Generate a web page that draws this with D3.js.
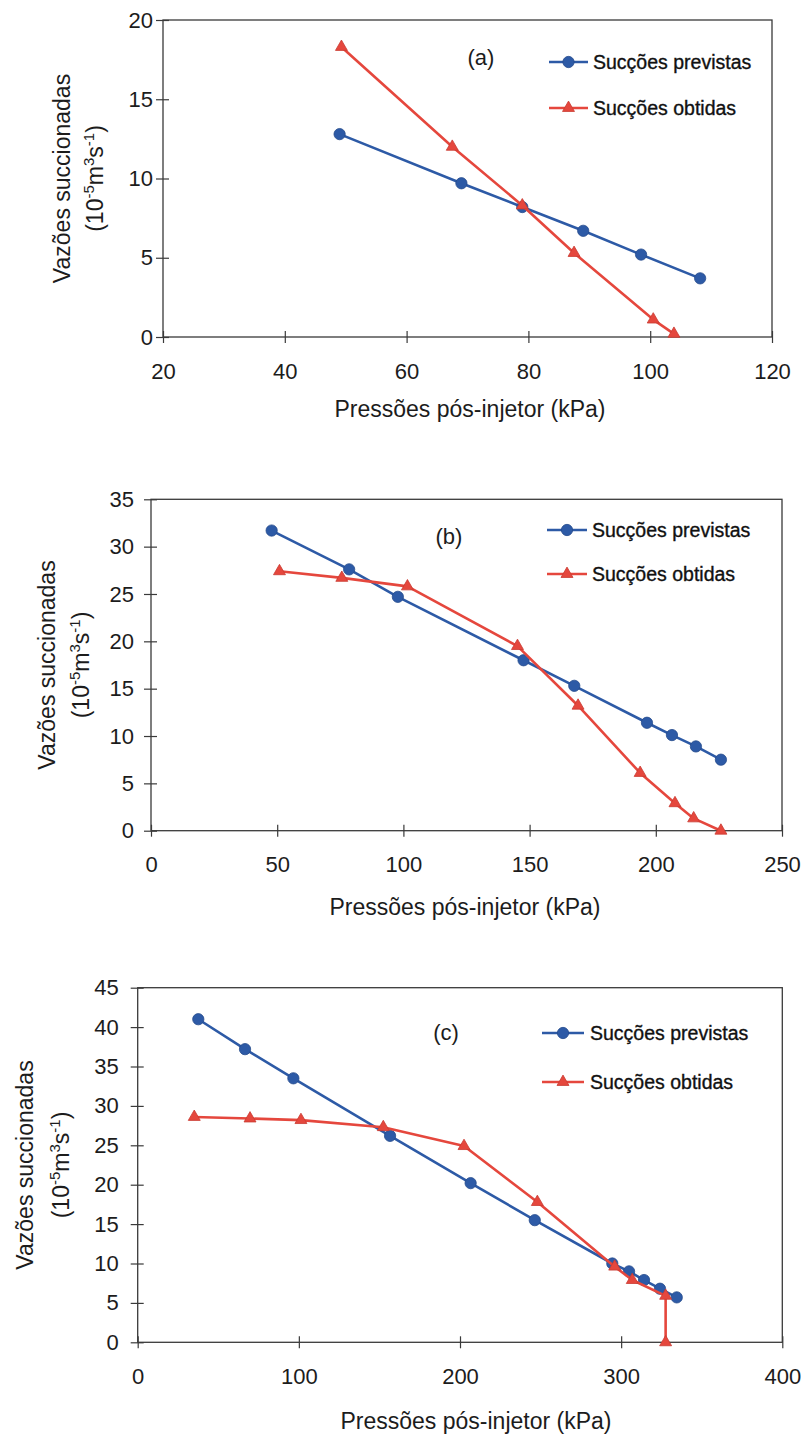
<!DOCTYPE html>
<html>
<head>
<meta charset="utf-8">
<script src="https://cdn.jsdelivr.net/npm/d3@7"></script>
<style>
    body { margin: 0; background: #fff; }
    svg { display: block; }
</style>
</head>
<body>
<div id="chart"></div>
<script>
'use strict';

// Panel (a)
const pressA_prev = [49, 69, 79, 89, 98.5, 108.2];
const vazaoA_prev = [12.8, 9.7, 8.2, 6.7, 5.2, 3.7];
const pressA_obt = [49.3, 67.5, 79, 87.5, 100.5, 103.9];
const vazaoA_obt = [18.3, 12.0, 8.3, 5.3, 1.1, 0.2];
const ticksA_x = [20, 40, 60, 80, 100, 120];
const ticksA_y = [0, 5, 10, 15, 20];

// Panel (b)
const pressB_prev = [47.8, 78.5, 97.8, 147.6, 167.7, 196.5, 206.4, 215.9, 225.8];
const vazaoB_prev = [31.7, 27.6, 24.7, 18.0, 15.3, 11.4, 10.1, 8.9, 7.5];
const pressB_obt = [50.9, 75.6, 101.6, 145.2, 169.2, 193.8, 207.6, 215, 225.8];
const vazaoB_obt = [27.4, 26.7, 25.8, 19.5, 13.2, 6.1, 2.9, 1.3, 0];
const ticksB_x = [0, 50, 100, 150, 200, 250];
const ticksB_y = [0, 5, 10, 15, 20, 25, 30, 35];

// Panel (c)
const pressC_prev = [37.6, 66.6, 96.6, 156.6, 206.6, 246.4, 294.5, 304.9, 314.2, 324.1, 334.5];
const vazaoC_prev = [41.0, 37.2, 33.5, 26.2, 20.2, 15.5, 10.0, 9.0, 7.9, 6.8, 5.7];
const pressC_obt = [35.1, 69.7, 101.3, 152.4, 202.5, 248, 296, 306.9, 327.6, 327.6];
const vazaoC_obt = [28.6, 28.4, 28.2, 27.3, 24.9, 17.8, 9.6, 7.9, 5.9, 0];
const ticksC_x = [0, 100, 200, 300, 400];
const ticksC_y = [0, 5, 10, 15, 20, 25, 30, 35, 40, 45];

// Texts
const seriesNames = ['Sucções previstas', 'Sucções obtidas'];
const panelLabels = ['(a)', '(b)', '(c)'];
const xTitle = 'Pressões pós-injetor (kPa)';
const yTitle = 'Vazões succionadas';

// Styles
const FONT = '"Liberation Sans", Arial, Helvetica, sans-serif';
const INK = '#1c1c1c';
const AXIS = '#3a3a3a';
const BLUE = '#2d5aa6';
const RED = '#e5473d';

const svg = d3.select('#chart')
    .append('svg')
    .attr('width', 808)
    .attr('height', 1436)
    .style('font-family', FONT);

class SuctionChart {

    constructor(_series, _cfg) {
        this.series = _series;
        this.cfg = _cfg;

        this.initVis();
    }

    initVis() {
        // Get this vis
        const vis = this;
        const c = vis.cfg;

        vis.g = svg.append('g')
            .attr('class', 'panel');

        // Scales
        vis.xScale = d3.scaleLinear()
            .domain([c.xTicks[0], c.xTicks[c.xTicks.length - 1]])
            .range([c.left, c.right]);
        vis.yScale = d3.scaleLinear()
            .domain([c.yTicks[0], c.yTicks[c.yTicks.length - 1]])
            .range([c.bottom, c.top]);

        // Frame
        vis.g.append('rect')
            .attr('x', c.left)
            .attr('y', c.top)
            .attr('width', c.right - c.left)
            .attr('height', c.bottom - c.top)
            .attr('fill', 'none')
            .attr('stroke', AXIS)
            .attr('stroke-width', 1.3);

        // X axis
        vis.xAxisG = vis.g.append('g')
            .attr('transform', `translate(0,${c.bottom})`)
            .call(d3.axisBottom(vis.xScale)
                .tickValues(c.xTicks)
                .tickSize(6)
                .tickPadding(20)
                .tickFormat(d3.format('d')))
            .attr('font-family', FONT)
            .attr('font-size', 22);
        vis.xAxisG.select('.domain').remove();
        vis.xAxisG.selectAll('.tick line')
            .attr('y1', -6)
            .attr('y2', 6)
            .attr('stroke', AXIS)
            .attr('stroke-width', 1.2);
        vis.xAxisG.selectAll('.tick text')
            .attr('fill', INK);

        // Y axis
        vis.yAxisG = vis.g.append('g')
            .attr('transform', `translate(${c.left},0)`)
            .call(d3.axisLeft(vis.yScale)
                .tickValues(c.yTicks)
                .tickSize(7)
                .tickPadding(c.yPad)
                .tickFormat(d3.format('d')))
            .attr('font-family', FONT)
            .attr('font-size', 22);
        vis.yAxisG.select('.domain').remove();
        vis.yAxisG.selectAll('.tick line')
            .attr('x1', 6)
            .attr('stroke', AXIS)
            .attr('stroke-width', 1.2);
        vis.yAxisG.selectAll('.tick text')
            .attr('fill', INK);

        // X title
        vis.g.append('text')
            .attr('x', c.xTitleX)
            .attr('y', c.bottom + c.xTitleDy)
            .attr('text-anchor', 'middle')
            .attr('font-size', 23)
            .attr('fill', INK)
            .text(xTitle);

        // Y title, two lines
        const cy = (c.top + c.bottom) / 2;
        vis.g.append('text')
            .attr('transform', `translate(${c.yLine1},${cy}) rotate(-90)`)
            .attr('text-anchor', 'middle')
            .attr('font-size', 23)
            .attr('fill', INK)
            .text(yTitle);

        const unit = vis.g.append('text')
            .attr('transform', `translate(${c.yLine2},${cy}) rotate(-90)`)
            .attr('text-anchor', 'middle')
            .attr('font-size', 23)
            .attr('fill', INK);
        unit.append('tspan').text('(10');
        unit.append('tspan').attr('font-size', 15).attr('dy', -9).text('-5');
        unit.append('tspan').attr('dy', 9).text('m');
        unit.append('tspan').attr('font-size', 15).attr('dy', -9).text('3');
        unit.append('tspan').attr('dy', 9).text('s');
        unit.append('tspan').attr('font-size', 15).attr('dy', -9).text('-1');
        unit.append('tspan').attr('dy', 9).text(')');

        // Panel label
        vis.g.append('text')
            .attr('x', c.label[0])
            .attr('y', c.label[1])
            .attr('dy', '0.36em')
            .attr('text-anchor', 'middle')
            .attr('font-size', 22)
            .attr('fill', INK)
            .text(c.name);

        // Line maker
        vis.lineMaker = d3.line()
            .x(d => vis.xScale(d.x))
            .y(d => vis.yScale(d.y));

        vis.updateVis();
    }

    updateVis() {
        // Get this vis
        const vis = this;
        const c = vis.cfg;

        const seriesG = vis.g.selectAll('.seriesG')
            .data(vis.series)
            .join('g')
            .attr('class', 'seriesG');

        // Lines
        seriesG.append('path')
            .attr('d', d => vis.lineMaker(d.points))
            .attr('fill', 'none')
            .attr('stroke', d => d.color)
            .attr('stroke-width', 2.6)
            .attr('stroke-linejoin', 'round');

        // Markers
        seriesG.each(function(s) {
            const sg = d3.select(this);
            sg.selectAll('.mark')
                .data(s.points)
                .join('path')
                .attr('class', 'mark')
                .attr('transform', d => `translate(${vis.xScale(d.x)},${vis.yScale(d.y)})`)
                .attr('d', d3.symbol().type(s.symbol).size(s.size))
                .attr('fill', s.color)
                .attr('stroke', s.edge)
                .attr('stroke-width', 0.8);
        });

        // Legend
        const legG = vis.g.selectAll('.legG')
            .data(vis.series)
            .join('g')
            .attr('class', 'legG')
            .attr('transform', (d, i) => `translate(0,${c.legY[i]})`);
        legG.append('line')
            .attr('x1', c.legX[0])
            .attr('x2', c.legX[1])
            .attr('stroke', d => d.color)
            .attr('stroke-width', 2.6);
        legG.append('path')
            .attr('transform', `translate(${(c.legX[0] + c.legX[1]) / 2},0)`)
            .attr('d', d => d3.symbol().type(d.symbol).size(d.size)())
            .attr('fill', d => d.color)
            .attr('stroke', d => d.edge)
            .attr('stroke-width', 0.8);
        legG.append('text')
            .attr('x', c.legX[2])
            .attr('dy', '0.35em')
            .attr('font-size', 19.5)
            .attr('fill', '#111')
            .attr('stroke', '#111')
            .attr('stroke-width', 0.35)
            .text(d => d.name);
    }
}

function zip(xs, ys) {
    return xs.map((x, i) => ({x: x, y: ys[i]}));
}

function makeSeries(px, py, ox, oy) {
    return [
        {name: seriesNames[0], points: zip(px, py), color: BLUE, edge: '#244a8c',
            symbol: d3.symbolCircle, size: 100},
        {name: seriesNames[1], points: zip(ox, oy), color: RED, edge: '#c93a31',
            symbol: d3.symbolTriangle, size: 62}
    ];
}

new SuctionChart(makeSeries(pressA_prev, vazaoA_prev, pressA_obt, vazaoA_obt), {
    name: panelLabels[0], xTicks: ticksA_x, yTicks: ticksA_y,
    left: 163, right: 772, top: 20, bottom: 337, yPad: 3,
    xTitleX: 470, xTitleDy: 80, yLine1: 70, yLine2: 103,
    label: [481, 57], legX: [549, 588, 593], legY: [62, 108]
});

new SuctionChart(makeSeries(pressB_prev, vazaoB_prev, pressB_obt, vazaoB_obt), {
    name: panelLabels[1], xTicks: ticksB_x, yTicks: ticksB_y,
    left: 151, right: 782, top: 499.3, bottom: 830.7, yPad: 10,
    xTitleX: 465, xTitleDy: 84, yLine1: 55, yLine2: 89,
    label: [449, 536], legX: [547, 587, 592], legY: [530, 574]
});

new SuctionChart(makeSeries(pressC_prev, vazaoC_prev, pressC_obt, vazaoC_obt), {
    name: panelLabels[2], xTicks: ticksC_x, yTicks: ticksC_y,
    left: 137.7, right: 782.3, top: 987.7, bottom: 1342.3, yPad: 12,
    xTitleX: 476, xTitleDy: 87, yLine1: 33, yLine2: 69,
    label: [446, 1032], legX: [542, 584, 590], legY: [1033, 1082]
});
</script>
</body>
</html>
